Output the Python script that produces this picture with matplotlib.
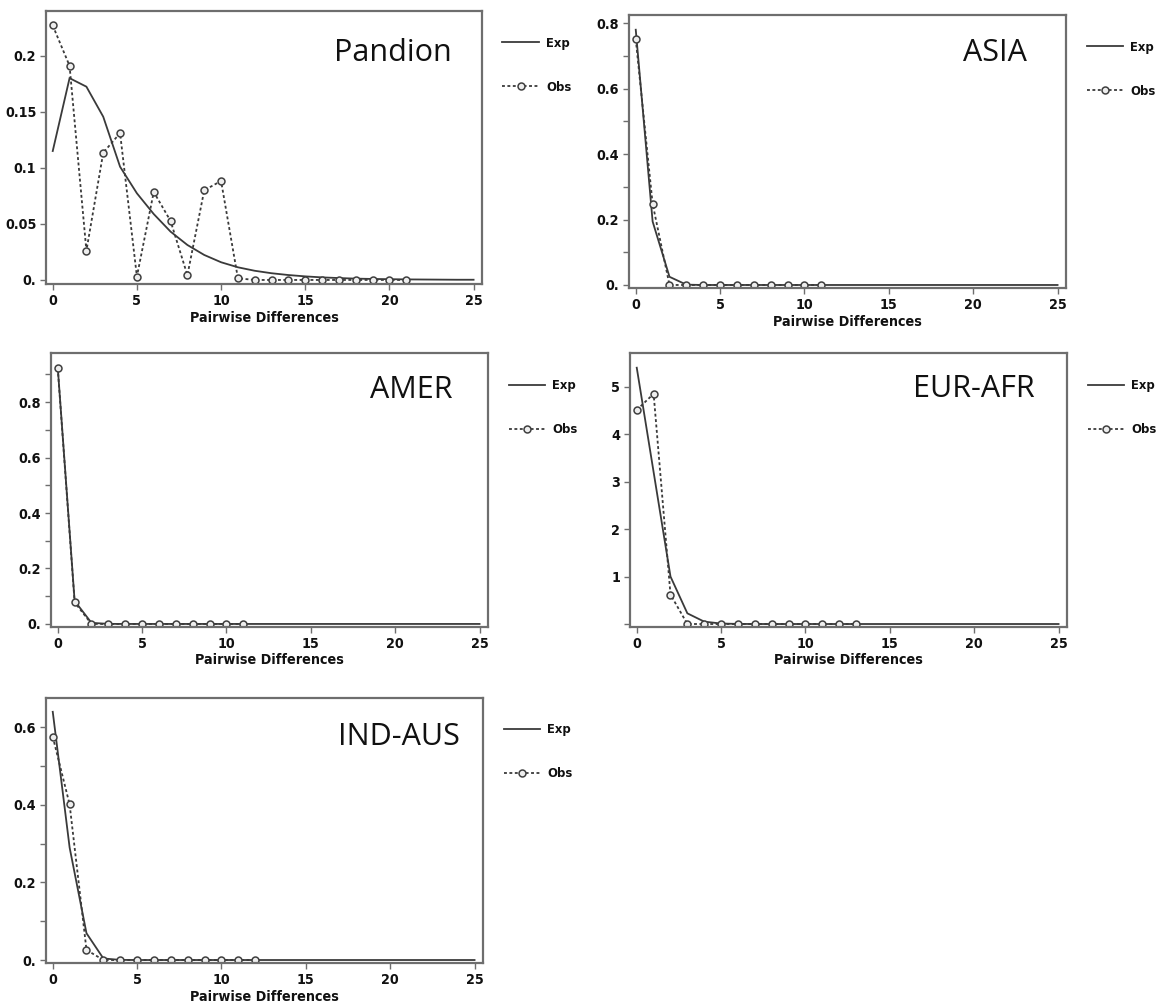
import matplotlib
matplotlib.use("Agg")
import matplotlib.pyplot as plt
from matplotlib import font_manager as fm

# ---------------- data ----------------
x_exp = list(range(26))

pandion_obs = [0.227, 0.191, 0.026, 0.1135, 0.131, 0.003, 0.0785, 0.0526, 0.0042,
               0.080, 0.0883, 0.0015, 0.0, 0.0, 0.0, 0.0, 0.0, 0.0, 0.0, 0.0, 0.0, 0.0]
pandion_exp = [0.115, 0.180, 0.1724, 0.1456, 0.101, 0.0773, 0.0588, 0.0431, 0.0312,
               0.0223, 0.0158, 0.0113, 0.0082, 0.0060, 0.0044, 0.0032, 0.0023, 0.0017,
               0.0012, 0.0009, 0.0007, 0.0005, 0.0004, 0.0003, 0.0002, 0.0002]

asia_obs = [0.751, 0.248, 0.0, 0.0, 0.0, 0.0, 0.0, 0.0, 0.0, 0.0, 0.0, 0.0]
asia_exp = [0.780, 0.194, 0.025, 0.001] + [0.0] * 22

amer_obs = [0.922, 0.078, 0.0, 0.0, 0.0, 0.0, 0.0, 0.0, 0.0, 0.0, 0.0, 0.0]
amer_exp = [0.925, 0.083, 0.004, 0.0003] + [0.0] * 22

eurafr_obs = [4.51, 4.85, 0.62, 0.0, 0.0, 0.0, 0.0, 0.0, 0.0, 0.0, 0.0, 0.0, 0.0, 0.0]
eurafr_exp = [5.40, 3.20, 1.00, 0.225, 0.05, 0.01, 0.002] + [0.0] * 19

indaus_obs = [0.576, 0.401, 0.026, 0.0, 0.0, 0.0, 0.0, 0.0, 0.0, 0.0, 0.0, 0.0, 0.0]
indaus_exp = [0.640, 0.290, 0.069, 0.004, 0.0003] + [0.0] * 21

panel_names = ["Pandion", "ASIA", "AMER", "EUR-AFR", "IND-AUS"]

xticks = [0, 5, 10, 15, 20, 25]
xtick_labels = ["0", "5", "10", "15", "20", "25"]

pandion_yticks = [0, 0.05, 0.1, 0.15, 0.2]
pandion_ylabels = ["0.", "0.05", "0.1", "0.15", "0.2"]
asia_yticks = [0, 0.1, 0.2, 0.3, 0.4, 0.5, 0.6, 0.7, 0.8]
asia_ylabels = ["0.", "", "0.2", "", "0.4", "", "0.6", "", "0.8"]
amer_yticks = [0, 0.1, 0.2, 0.3, 0.4, 0.5, 0.6, 0.7, 0.8, 0.9]
amer_ylabels = ["0.", "", "0.2", "", "0.4", "", "0.6", "", "0.8", ""]
eurafr_yticks = [0, 1, 2, 3, 4, 5]
eurafr_ylabels = ["", "1", "2", "3", "4", "5"]
indaus_yticks = [0, 0.1, 0.2, 0.3, 0.4, 0.5, 0.6]
indaus_ylabels = ["0.", "", "0.2", "", "0.4", "", "0.6"]

xlabel = "Pairwise Differences"
legend_labels = ["Exp", "Obs"]

# ---------------- style ----------------
avail = {f.name for f in fm.fontManager.ttflist}
narrow = "Liberation Sans Narrow" if "Liberation Sans Narrow" in avail else "DejaVu Sans"
title_font = "Open Sans" if "Open Sans" in avail else "DejaVu Sans"
small_font = fm.FontProperties(family=narrow, weight="bold", stretch="condensed", size=10.3)
legend_font = fm.FontProperties(family=narrow, weight="bold", stretch="condensed", size=9.3)

W, H = 1160, 1005
fig = plt.figure(figsize=(W / 100, H / 100), dpi=100)

def px_axes(l, t, r, b):
    return [l / W, 1 - b / H, (r - l) / W, (b - t) / H]

panels = [
    dict(box=(46, 11, 482, 284), obs=pandion_obs, exp=pandion_exp, ylim=(-0.0036, 0.2399),
         yt=pandion_yticks, yl=pandion_ylabels, title=(0.931, 0.846)),
    dict(box=(629, 15, 1066, 288), obs=asia_obs, exp=asia_exp, ylim=(-0.0092, 0.825),
         yt=asia_yticks, yl=asia_ylabels, title=(0.911, 0.861)),
    dict(box=(51, 353, 488, 627), obs=amer_obs, exp=amer_exp, ylim=(-0.011, 0.977),
         yt=amer_yticks, yl=amer_ylabels, title=(0.918, 0.865)),
    dict(box=(630, 353, 1067, 627), obs=eurafr_obs, exp=eurafr_exp, ylim=(-0.063, 5.71),
         yt=eurafr_yticks, yl=eurafr_ylabels, title=(0.927, 0.869)),
    dict(box=(46, 698, 483, 963), obs=indaus_obs, exp=indaus_exp, ylim=(-0.0077, 0.6756),
         yt=indaus_yticks, yl=indaus_ylabels, title=(0.946, 0.853)),
]

line_col = "#3a3a3a"
spine_col = "#6e6e6e"

for name, p in zip(panel_names, panels):
    ax = fig.add_axes(px_axes(*p["box"]))
    x_obs = list(range(len(p["obs"])))
    h_exp, = ax.plot(x_exp, p["exp"], color=line_col, lw=1.3, solid_joinstyle="miter")
    h_obs, = ax.plot(x_obs, p["obs"], color=line_col, lw=1.3, linestyle=(0, (1.6, 1.4)),
                     marker="o", ms=5.0, mfc="#eeeeee", mec="#3f3f3f", mew=1.1)
    ax.set_xlim(-0.4, 25.5)
    ax.set_ylim(*p["ylim"])
    ax.set_xticks(xticks)
    ax.set_xticklabels(xtick_labels)
    ax.set_yticks(p["yt"])
    ax.set_yticklabels(p["yl"])
    for s in ax.spines.values():
        s.set_color(spine_col)
        s.set_linewidth(1.6)
    ax.tick_params(axis="both", direction="out", length=4, width=1.0, color=spine_col,
                   pad=3, labelcolor="#111111")
    for lab in ax.get_xticklabels() + ax.get_yticklabels():
        lab.set_fontproperties(small_font)
    ax.set_xlabel(xlabel, fontproperties=small_font, labelpad=2, color="#111111")
    ax.text(p["title"][0], p["title"][1], name, transform=ax.transAxes, ha="right",
            va="center", fontfamily=title_font, fontsize=22, color="#111111")
    leg = ax.legend([h_exp, h_obs], legend_labels, loc="upper left",
                    bbox_to_anchor=(1.047, 0.905), frameon=False, handlelength=2.8,
                    handletextpad=0.6, labelspacing=2.4, borderpad=0, borderaxespad=0,
                    numpoints=1, prop=legend_font)
    for t in leg.get_texts():
        t.set_color("#111111")

fig.savefig("out.png", dpi=100)
